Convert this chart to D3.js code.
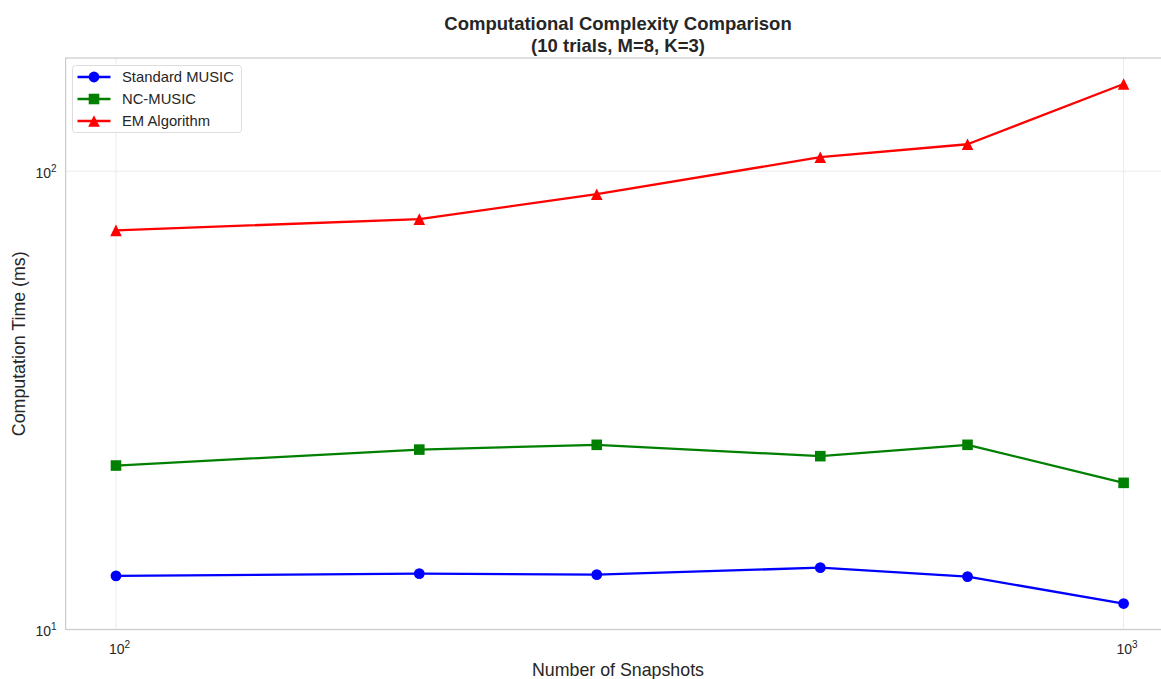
<!DOCTYPE html>
<html>
<head>
<meta charset="utf-8">
<script src="https://cdn.jsdelivr.net/npm/d3@7"></script>
<style>
  html, body { margin: 0; padding: 0; background: #fff; }
  svg { display: block; font-family: "Liberation Sans", Arial, sans-serif; }
</style>
</head>
<body>
<svg id="chart" width="1161" height="679"></svg>
<script>
// Snapshot counts on the x axis
const snapshots = [100, 200, 300, 500, 700, 1000];
// Mean computation time (ms) per method
const standardMusic = [13.1, 13.25, 13.18, 13.65, 13.05, 11.4];
const ncMusic = [22.8, 24.7, 25.3, 23.9, 25.3, 20.9];
const emAlgorithm = [74.3, 78.6, 89.1, 107.3, 114.5, 155];
const seriesNames = ["Standard MUSIC", "NC-MUSIC", "EM Algorithm"];
const xTicks = [100, 1000];
const yTicks = [10, 100];

const series = [
  { name: seriesNames[0], values: standardMusic, color: "#0000ff", marker: "circle" },
  { name: seriesNames[1], values: ncMusic, color: "#008000", marker: "square" },
  { name: seriesNames[2], values: emAlgorithm, color: "#ff0000", marker: "triangle" }
];

const svg = d3.select("#chart");
const plotLeft = 65.6, plotRight = 1174, plotTop = 58, plotBottom = 629.5;

// Log domains padded by 5% of the decade span on each side
const allY = standardMusic.concat(ncMusic, emAlgorithm);
const lx0 = Math.log10(d3.min(snapshots)), lx1 = Math.log10(d3.max(snapshots));
const ly0 = Math.log10(d3.min(allY)), ly1 = Math.log10(d3.max(allY));
const px = (lx1 - lx0) * 0.05, py = (ly1 - ly0) * 0.05;

const x = d3.scaleLog().domain([10 ** (lx0 - px), 10 ** (lx1 + px)]).range([plotLeft, plotRight]);
const y = d3.scaleLog().domain([10 ** (ly0 - py), 10 ** (ly1 + py)]).range([plotBottom, plotTop]);

// Grid at decades
const grid = svg.append("g");
grid.selectAll("line.gx").data(xTicks).join("line")
  .attr("x1", d => x(d)).attr("x2", d => x(d))
  .attr("y1", plotTop).attr("y2", plotBottom)
  .attr("stroke", "#ebebeb").attr("stroke-width", 1);
grid.selectAll("line.gy").data(yTicks).join("line")
  .attr("x1", plotLeft).attr("x2", plotRight)
  .attr("y1", d => y(d)).attr("y2", d => y(d))
  .attr("stroke", "#ebebeb").attr("stroke-width", 1);

// Frame
svg.append("rect").attr("x", plotLeft).attr("y", plotTop)
  .attr("width", plotRight - plotLeft).attr("height", plotBottom - plotTop)
  .attr("fill", "none").attr("stroke", "#cccccc").attr("stroke-width", 1.25);

// Axes (labels only, no tick marks)
const fmtPow = (g, d) => {
  const exp = Math.round(Math.log10(d));
  g.text(null);
  g.append("tspan").text("10");
  g.append("tspan").attr("dy", "-0.6em").attr("font-size", "10px").text(exp);
};

const xAxis = svg.append("g").attr("transform", `translate(3,${plotBottom})`)
  .call(d3.axisBottom(x).tickValues(xTicks).tickSize(0).tickPadding(15).tickFormat(() => ""));
xAxis.select(".domain").remove();
xAxis.selectAll(".tick text").each(function(d) { fmtPow(d3.select(this), d); })
  .attr("font-size", "14px").attr("fill", "#262626").attr("font-family", "Liberation Sans, Arial, sans-serif");

const yAxis = svg.append("g").attr("transform", `translate(${plotLeft},0)`)
  .call(d3.axisLeft(y).tickValues(yTicks).tickSize(0).tickPadding(9).tickFormat(() => ""));
yAxis.select(".domain").remove();
yAxis.selectAll(".tick text").each(function(d) { fmtPow(d3.select(this), d); })
  .attr("font-size", "14px").attr("fill", "#262626").attr("font-family", "Liberation Sans, Arial, sans-serif")
  .attr("dy", "0.45em");

// Marker shapes: circle, square, and an upward triangle as wide as it is tall
const markerPath = m => {
  if (m === "circle") return d3.symbol().type(d3.symbolCircle).size(91)();
  if (m === "square") return d3.symbol().type(d3.symbolSquare).size(112)();
  const h = 5.8;
  return `M0,${-h}L${h},${h}L${-h},${h}Z`;
};

// Lines and markers
const line = d3.line().x((d, i) => x(snapshots[i])).y(d => y(d));

const plot = svg.append("g");
series.forEach(s => {
  plot.append("path").datum(s.values)
    .attr("d", line).attr("fill", "none")
    .attr("stroke", s.color).attr("stroke-width", 2.3).attr("stroke-linejoin", "round");
  plot.selectAll(null).data(s.values).join("path")
    .attr("transform", (d, i) => `translate(${x(snapshots[i])},${y(d)})`)
    .attr("d", markerPath(s.marker))
    .attr("fill", s.color);
});

// Title
const cx = 618;
const title = svg.append("text").attr("x", cx).attr("y", 30)
  .attr("text-anchor", "middle").attr("font-size", "18.5px").attr("font-weight", "bold").attr("fill", "#262626");
title.append("tspan").attr("x", cx).text("Computational Complexity Comparison");
title.append("tspan").attr("x", cx).attr("dy", 22).text("(10 trials, M=8, K=3)");

// Axis titles
svg.append("text").attr("x", cx).attr("y", 676)
  .attr("text-anchor", "middle").attr("font-size", "17.8px").attr("fill", "#262626")
  .text("Number of Snapshots");
svg.append("text").attr("transform", `translate(25,${(plotTop + plotBottom) / 2}) rotate(-90)`)
  .attr("text-anchor", "middle").attr("font-size", "17.8px").attr("fill", "#262626")
  .text("Computation Time (ms)");

// Legend
const lg = svg.append("g").attr("transform", "translate(72.5,65.5)");
lg.append("rect").attr("width", 169).attr("height", 67).attr("rx", 3)
  .attr("fill", "#fff").attr("fill-opacity", 0.8).attr("stroke", "#dddddd").attr("stroke-width", 1);
series.forEach((s, i) => {
  const g = lg.append("g").attr("transform", `translate(5,${11.5 + i * 22})`);
  g.append("line").attr("x1", 0).attr("x2", 33).attr("stroke", s.color).attr("stroke-width", 2.3);
  g.append("path").attr("transform", "translate(16.5,0)")
    .attr("d", markerPath(s.marker))
    .attr("fill", s.color);
  g.append("text").attr("x", 44.5).attr("dy", "0.36em").attr("font-size", "14.8px").attr("fill", "#262626").text(s.name);
});
</script>
</body>
</html>
